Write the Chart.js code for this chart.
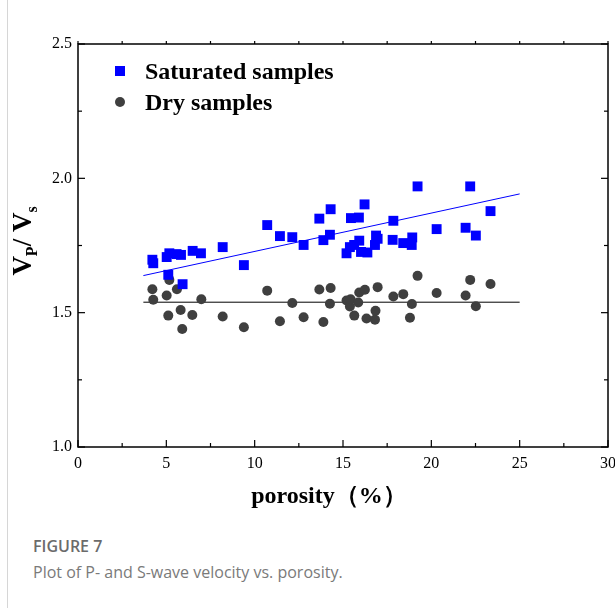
<!DOCTYPE html>
<html>
<head>
<meta charset="utf-8">
<script src="https://cdn.jsdelivr.net/npm/chart.js@4.4.0/dist/chart.umd.min.js"></script>
<style>
    body { margin: 0; background: #fff; width: 615px; height: 608px; overflow: hidden; position: relative; }
    #wrap { position: absolute; left: 0; top: 0; width: 615px; height: 530px; }
    .rule { position: absolute; left: 7px; top: 0; width: 1px; height: 608px; background: #d6d6d6; }
    .lg { position: absolute; left: 145px; font: bold 24px "Liberation Serif", serif; color: #000; line-height: 26px; white-space: nowrap; }
    .lg i { position: absolute; left: -30px; top: 8px; width: 10px; height: 10px; }
    .cap1 { position: absolute; left: 33px; top: 535px; font: 600 16px "Open Sans", sans-serif; color: #6b6b6b; }
    .cap2 { position: absolute; left: 33px; top: 561px; font: 400 16px "Open Sans", sans-serif; color: #7a7a7a; }
</style>
</head>
<body>
<div class="rule"></div>
<div id="wrap"><canvas id="chart"></canvas></div>
<div class="lg" style="top:58px"><i style="background:#0000ff"></i>Saturated samples</div>
<div class="lg" style="top:89px"><i style="background:#3f3f3f;border-radius:50%"></i>Dry samples</div>
<div class="cap1">FIGURE 7</div>
<div class="cap2">Plot of P- and S-wave velocity vs. porosity.</div>
<script>
const satPorosity = [4.21, 4.26, 5.02, 5.11, 5.17, 5.58, 5.83, 5.92, 6.49, 6.96, 8.19, 9.39, 10.71,
    11.43, 12.13, 12.77, 13.66, 13.89, 14.26, 14.30, 15.20, 15.39, 15.45, 15.63, 15.90, 15.92, 16.02,
    16.22, 16.38, 16.81, 16.87, 16.96, 17.81, 17.85, 18.41, 18.89, 18.92, 19.22, 20.30, 21.94, 22.20,
    22.52, 23.35];
const satRatio = [1.697, 1.684, 1.707, 1.641, 1.721, 1.718, 1.715, 1.606, 1.730, 1.721, 1.744, 1.677, 1.826,
    1.785, 1.781, 1.752, 1.850, 1.770, 1.790, 1.885, 1.721, 1.744, 1.852, 1.752, 1.854, 1.768, 1.726,
    1.903, 1.724, 1.752, 1.787, 1.775, 1.771, 1.842, 1.759, 1.752, 1.780, 1.970, 1.811, 1.816, 1.970,
    1.787, 1.878];

const dryPorosity = [4.21, 4.26, 5.02, 5.11, 5.17, 5.60, 5.81, 5.90, 6.47, 6.98, 8.19, 9.39, 10.71,
    11.43, 12.13, 12.77, 13.66, 13.89, 14.26, 14.30, 15.20, 15.39, 15.43, 15.64, 15.86, 15.92, 16.24,
    16.33, 16.81, 16.84, 16.96, 17.85, 18.41, 18.79, 18.90, 19.22, 20.30, 21.94, 22.20, 22.52, 23.35];
const dryRatio = [1.587, 1.548, 1.564, 1.489, 1.622, 1.587, 1.510, 1.439, 1.491, 1.550, 1.486, 1.446, 1.582,
    1.468, 1.536, 1.483, 1.586, 1.465, 1.533, 1.592, 1.545, 1.523, 1.550, 1.489, 1.538, 1.575, 1.585,
    1.478, 1.474, 1.507, 1.595, 1.560, 1.569, 1.481, 1.532, 1.637, 1.573, 1.564, 1.622, 1.524, 1.607];

const fitX = [3.7, 25];
const satFit = [1.638, 1.942];
const dryFit = [1.539, 1.539];

const xTicks = [0, 5, 10, 15, 20, 25, 30];
const yTicks = [1.0, 1.5, 2.0, 2.5];

const serif = '"Liberation Serif", "Times New Roman", serif';

const toPoints = (xs, ys) => xs.map((v, i) => ({ x: v, y: ys[i] }));

const frame = {
    id: 'frame',
    afterDraw(chart) {
        const { ctx, chartArea: a, scales: { x, y } } = chart;
        const line = (x1, y1, x2, y2) => { ctx.beginPath(); ctx.moveTo(x1, y1); ctx.lineTo(x2, y2); ctx.stroke(); };
        ctx.save();
        ctx.strokeStyle = '#000';
        ctx.lineWidth = 1.5;
        ctx.strokeRect(a.left, a.top, a.right - a.left, a.bottom - a.top);
        ctx.lineWidth = 1.2;
        for (let v = x.min; v <= x.max; v += 2.5) {
            const px = x.getPixelForValue(v);
            const len = xTicks.includes(v) ? 7 : 4;
            line(px, a.bottom, px, a.bottom - len);
            line(px, a.top, px, a.top - 3);
        }
        for (let v = y.min; v <= y.max + 1e-9; v += 0.25) {
            const py = y.getPixelForValue(v);
            const len = Math.abs(v * 2 - Math.round(v * 2)) < 1e-6 ? 7 : 4;
            line(a.left, py, a.left + len, py);
            line(a.right, py, a.right - len, py);
        }

        // x title
        ctx.fillStyle = '#000';
        ctx.textBaseline = 'middle';
        ctx.textAlign = 'center';
        ctx.font = 'bold 24px ' + serif;
        ctx.fillText('porosity（%）', 329, 497);

        // y title with subscripts
        const parts = [['V', 27, 0], ['P', 16, 6], ['/ ', 27, 0], ['V', 27, 0], ['s', 16, 6]];
        let total = 0;
        for (const [t, s] of parts) { ctx.font = 'bold ' + s + 'px ' + serif; total += ctx.measureText(t).width; }
        ctx.translate(22, 241);
        ctx.rotate(-Math.PI / 2);
        ctx.textAlign = 'left';
        ctx.textBaseline = 'alphabetic';
        let cx = -total / 2;
        for (const [t, s, dy] of parts) {
            ctx.font = 'bold ' + s + 'px ' + serif;
            ctx.fillText(t, cx, 9 + dy);
            cx += ctx.measureText(t).width;
        }
        ctx.restore();
    }
};

new Chart(document.getElementById('chart'), {
    type: 'scatter',
    data: {
        datasets: [
            {
                label: 'Saturated samples',
                data: toPoints(satPorosity, satRatio),
                pointStyle: 'rect',
                pointRadius: 7,
                backgroundColor: '#0000ff',
                borderWidth: 0
            },
            {
                label: 'Dry samples',
                data: toPoints(dryPorosity, dryRatio),
                pointStyle: 'circle',
                pointRadius: 5,
                backgroundColor: '#3f3f3f',
                borderWidth: 0
            },
            {
                label: 'Saturated fit',
                data: toPoints(fitX, satFit),
                showLine: true,
                borderColor: '#0000ff',
                borderWidth: 1,
                pointRadius: 0
            },
            {
                label: 'Dry fit',
                data: toPoints(fitX, dryFit),
                showLine: true,
                borderColor: '#000',
                borderWidth: 1,
                pointRadius: 0
            }
        ]
    },
    options: {
        responsive: true,
        maintainAspectRatio: false,
        animation: false,
        layout: { padding: { left: 0, right: 7, top: 44, bottom: 0 } },
        plugins: { legend: { display: false }, tooltip: { enabled: false } },
        scales: {
            x: {
                type: 'linear',
                min: 0,
                max: 30,
                afterBuildTicks: s => { s.ticks = xTicks.map(v => ({ value: v })); },
                afterFit: s => { s.height = 83; s.paddingLeft = 0; s.paddingRight = 0; },
                grid: { display: false, drawTicks: false },
                border: { display: false },
                ticks: { padding: 7, color: '#000', font: { family: serif, size: 16 } }
            },
            y: {
                type: 'linear',
                min: 1,
                max: 2.5,
                afterBuildTicks: s => { s.ticks = yTicks.map(v => ({ value: v })); },
                afterFit: s => { s.width = 78; s.paddingTop = 0; s.paddingBottom = 0; },
                grid: { display: false, drawTicks: false },
                border: { display: false },
                ticks: { padding: 6, color: '#000', font: { family: serif, size: 16 }, callback: v => v.toFixed(1) }
            }
        }
    },
    plugins: [frame]
});
</script>
</body>
</html>
